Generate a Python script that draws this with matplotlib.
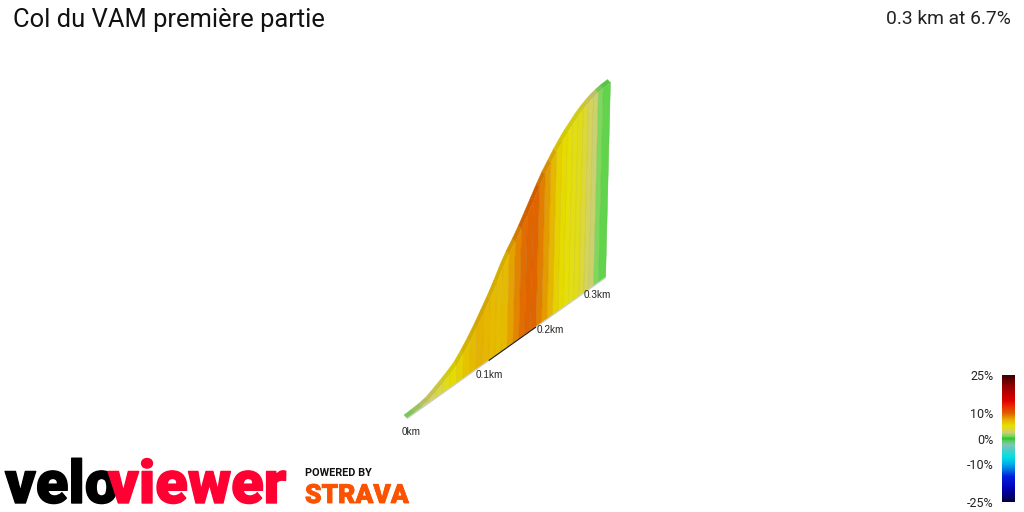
import numpy as np
import matplotlib
matplotlib.use("Agg")
import matplotlib.pyplot as plt
import matplotlib.patheffects as pe
from matplotlib.colors import LinearSegmentedColormap, Normalize, to_rgb
from matplotlib.patches import Polygon

# Distance along the climb (km), one sample every 10 m
distance = [0.00, 0.01, 0.02, 0.03, 0.04, 0.05, 0.06, 0.07, 0.08, 0.09, 0.10,
            0.11, 0.12, 0.13, 0.14, 0.15, 0.16, 0.17, 0.18, 0.19, 0.20, 0.21,
            0.22, 0.23, 0.24, 0.25, 0.26, 0.27, 0.28, 0.29, 0.30, 0.31, 0.32, 0.335]
# Height above the start (m)
elevation = [0.0, 0.05, 0.12, 0.28, 0.65, 1.07, 1.5, 2.0, 2.8, 3.7, 4.7,
             5.8, 6.9, 8.1, 9.4, 10.5, 11.4, 12.4, 13.5, 14.6, 15.7, 16.7,
             17.5, 18.3, 19.0, 19.6, 20.1, 20.6, 21.0, 21.3, 21.55, 21.7, 21.8, 21.85]
# Gradient of each 10 m segment (%)
gradient = [1.2, 1.8, 2.3, 3.0, 3.6, 4.3, 5.2, 5.8, 6.5, 7.0, 7.4,
            7.2, 7.0, 6.9, 7.0, 8.0, 8.8, 9.6, 9.8, 9.8, 9.0, 8.2,
            7.2, 5.8, 5.3, 4.8, 4.5, 4.4, 3.8, 3.0, 2.4, 1.1, 0.7]
# Stretch of the base line that shows dark (km)
dark_base = (0.12, 0.20)

distance_ticks = [0.0, 0.1, 0.2, 0.3]
distance_labels = ["0km", "0.1km", "0.2km", "0.3km"]

scale_ticks = [-25, -10, 0, 10, 25]
scale_labels = ["-25%", "-10%", "0%", "10%", "25%"]
scale_grades = [-25, -20, -15, -12.5, -10, -7.5, -5, -2.5, -1, 0, 1, 2.5, 5, 7.5, 10, 12.5, 15, 20, 25]
scale_colors = ["#000040", "#0000b0", "#0020e0", "#0070e0", "#00b0f0", "#00e0e0",
                "#40d0d0", "#80c8b0", "#60c870", "#20c820", "#78d85a", "#d0d070",
                "#e6e000", "#e6b000", "#e06000", "#e83000", "#e00000", "#a00000", "#3c0000"]

title = "Col du VAM première partie"
summary = "0.3 km at 6.7%"

plt.rcParams["font.family"] = ["Roboto", "DejaVu Sans"]
cmap = LinearSegmentedColormap.from_list(
    "grade", [((g + 25) / 50, c) for g, c in zip(scale_grades, scale_colors)], N=512)
norm = Normalize(-25, 25)


# 3D view of the climb: distance runs into the picture, height goes straight up
def project(d, h=0.0):
    x = 407 + 741.75 * d / (1 + 0.75 * d)
    y = 418 - 0.71 * (x - 407)
    return x + 0.22 * h, y - 8.9 * h


def darker(color, f):
    return tuple(c * f for c in to_rgb(color[:3]))


fig = plt.figure(figsize=(10.24, 5.12), dpi=100)
ax = fig.add_axes([0, 0, 1, 1])
ax.set_xlim(0, 1024)
ax.set_ylim(512, 0)
ax.axis("off")

band = (-3, -3)
for i, grade in enumerate(gradient):
    color = cmap(norm(grade))
    d0, d1 = distance[i], distance[i + 1]
    h0, h1 = elevation[i], elevation[i + 1]
    b0, b1 = project(d0), project(d1)
    t0, t1 = project(d0, h0), project(d1, h1)
    # road surface along the top
    top = [t0, t1, (t1[0] + band[0], t1[1] + band[1]), (t0[0] + band[0], t0[1] + band[1])]
    ax.add_patch(Polygon(top, closed=True, fc=darker(color, 0.92), ec=darker(color, 0.92), lw=0.3, zorder=2))
    # wall under the road
    ax.add_patch(Polygon([b0, b1, t1, t0], closed=True, fc=color[:3], ec=color[:3], lw=0.2, zorder=3))
    ax.plot([b1[0], t1[0]], [b1[1], t1[1]], color=darker(color, 0.85), lw=0.4, alpha=0.5, zorder=4)
    # base line, dark under the steep part
    base = "#111111" if dark_base[0] <= d0 < dark_base[1] else "#c8c8c0"
    ax.plot([b0[0], b1[0]], [b0[1] + 0.6, b1[1] + 0.6], color=base, lw=0.8, zorder=5, solid_capstyle="butt")

offsets = [(4, 14), (13, 6), (14, 4), (9, 6)]
for d, label, off in zip(distance_ticks, distance_labels, offsets):
    x, y = project(d)
    ax.text(x + off[0], y + off[1], label, fontsize=7.2, color="#222222", ha="center", va="center",
            family=["Liberation Sans", "DejaVu Sans"], zorder=6)

ax.text(13, 20, title, fontsize=18.4, color="#111111", ha="left", va="center")
ax.text(1011, 19, summary, fontsize=13.9, color="#222222", ha="right", va="center")

# Logos
ax.text(5, 503, "velo", fontsize=43, weight=900, color="#000000", ha="left", va="baseline",
        path_effects=[pe.withStroke(linewidth=1.0, foreground="#000000")])
ax.text(108, 503, "viewer", fontsize=43, weight=900, color="#ff0033", ha="left", va="baseline",
        path_effects=[pe.withStroke(linewidth=1.0, foreground="#ff0033")])
ax.text(305, 473.5, "POWERED BY", fontsize=7.8, weight="bold", color="#111111", ha="left", va="center")
ax.text(305, 503, "STRAVA", fontsize=19, weight=900, color="#fc5200", ha="left", va="baseline",
        path_effects=[pe.withStroke(linewidth=0.6, foreground="#fc5200")])

# Colour scale
cax = fig.add_axes([1002 / 1024, 1 - 502 / 512, 13 / 1024, 127 / 512])
cax.imshow(np.linspace(25, -25, 256).reshape(-1, 1), cmap=cmap, norm=norm, aspect="auto", extent=[0, 1, -25, 25])
cax.set_xticks([])
cax.set_yticks(scale_ticks)
cax.set_yticklabels(scale_labels, fontsize=9, color="#222222")
cax.tick_params(axis="y", length=0, pad=6)
for s in cax.spines.values():
    s.set_visible(False)

fig.savefig("out.png", dpi=100)
